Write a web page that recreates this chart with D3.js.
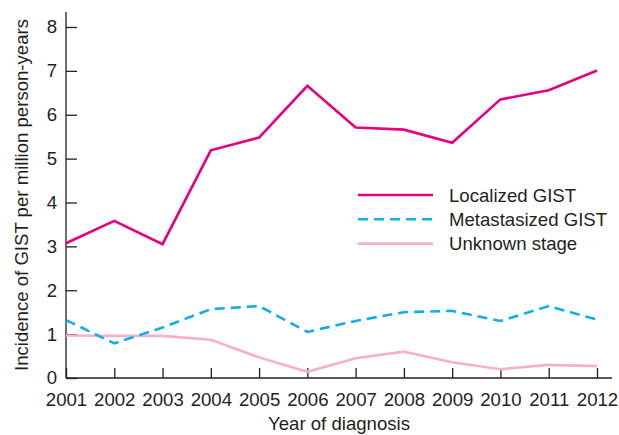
<!DOCTYPE html>
<html lang="en">
<head>
<meta charset="utf-8">
<script src="https://d3js.org/d3.v7.min.js"></script>
<style>
  body { margin: 0; background: #ffffff; }
  svg { display: block; }
  .axis text { font: 18.6px "Liberation Sans", Arial, sans-serif; fill: #231f20; }
  .axis line, .axis path { stroke: #231f20; stroke-width: 1.3; fill: none; }
  .label { font: 18.6px "Liberation Sans", Arial, sans-serif; fill: #231f20; }
</style>
</head>
<body>
<script>
// data
var years = [2001, 2002, 2003, 2004, 2005, 2006, 2007, 2008, 2009, 2010, 2011, 2012];
var localized    = [3.07, 3.58, 3.05, 5.19, 5.48, 6.66, 5.71, 5.66, 5.36, 6.35, 6.56, 7.01];
var metastasized = [1.32, 0.79, 1.15, 1.57, 1.64, 1.05, 1.30, 1.50, 1.53, 1.30, 1.64, 1.33];
var unknown      = [0.97, 0.96, 0.96, 0.87, 0.47, 0.14, 0.45, 0.60, 0.36, 0.20, 0.30, 0.27];
var yTicks = [0, 1, 2, 3, 4, 5, 6, 7, 8];

var seriesNames = ["Localized GIST", "Metastasized GIST", "Unknown stage"];
var seriesData = [localized, metastasized, unknown];
var colors = ["#e6007e", "#10aee8", "#f6b0cd"];
var dashes = [null, "10,6", null];

var width = 619, height = 435;
var svg = d3.select("body").append("svg")
    .attr("width", width)
    .attr("height", height);

var x = d3.scaleLinear().domain([2001, 2012]).range([66, 597]);
var y = d3.scaleLinear().domain([0, 8]).range([378, 27]);

// axes with inward ticks
var xAxis = svg.append("g")
    .attr("class", "axis")
    .attr("transform", "translate(0,378)")
    .call(d3.axisBottom(x).tickValues(years).tickFormat(d3.format("d")).tickSize(-10).tickPadding(15));
xAxis.select(".domain").remove();

var yAxis = svg.append("g")
    .attr("class", "axis")
    .attr("transform", "translate(66,0)")
    .call(d3.axisLeft(y).tickValues(yTicks).tickSize(-11).tickPadding(9));
yAxis.select(".domain").remove();

svg.append("line")
    .attr("x1", 66).attr("x2", 66).attr("y1", 12).attr("y2", 378)
    .attr("stroke", "#231f20").attr("stroke-width", 1.3);
svg.append("line")
    .attr("x1", 66).attr("x2", 612).attr("y1", 378).attr("y2", 378)
    .attr("stroke", "#231f20").attr("stroke-width", 1.3);

// lines
var line = d3.line()
    .x(function(d, i) { return x(years[i]); })
    .y(function(d) { return y(d); });

// draw back to front: unknown, metastasized, localized
[2, 1, 0].forEach(function(k) {
  svg.append("path")
      .datum(seriesData[k])
      .attr("d", line)
      .attr("fill", "none")
      .attr("stroke", colors[k])
      .attr("stroke-width", 2.6)
      .attr("stroke-dasharray", dashes[k]);
});

// legend
var legend = svg.append("g").attr("transform", "translate(358,195)");
seriesNames.forEach(function(name, i) {
  var row = legend.append("g").attr("transform", "translate(0," + (i * 24.3) + ")");
  row.append("line")
      .attr("x1", 0).attr("x2", 75)
      .attr("stroke", colors[i])
      .attr("stroke-width", 2.6)
      .attr("stroke-dasharray", dashes[i]);
  row.append("text")
      .attr("class", "label")
      .attr("x", 91)
      .attr("dy", "0.35em")
      .text(name);
});

// axis titles
svg.append("text")
    .attr("class", "label")
    .attr("text-anchor", "middle")
    .attr("transform", "translate(28,195) rotate(-90)")
    .text("Incidence of GIST per million person-years");

svg.append("text")
    .attr("class", "label")
    .attr("text-anchor", "middle")
    .attr("x", 339)
    .attr("y", 430)
    .text("Year of diagnosis");
</script>
</body>
</html>
